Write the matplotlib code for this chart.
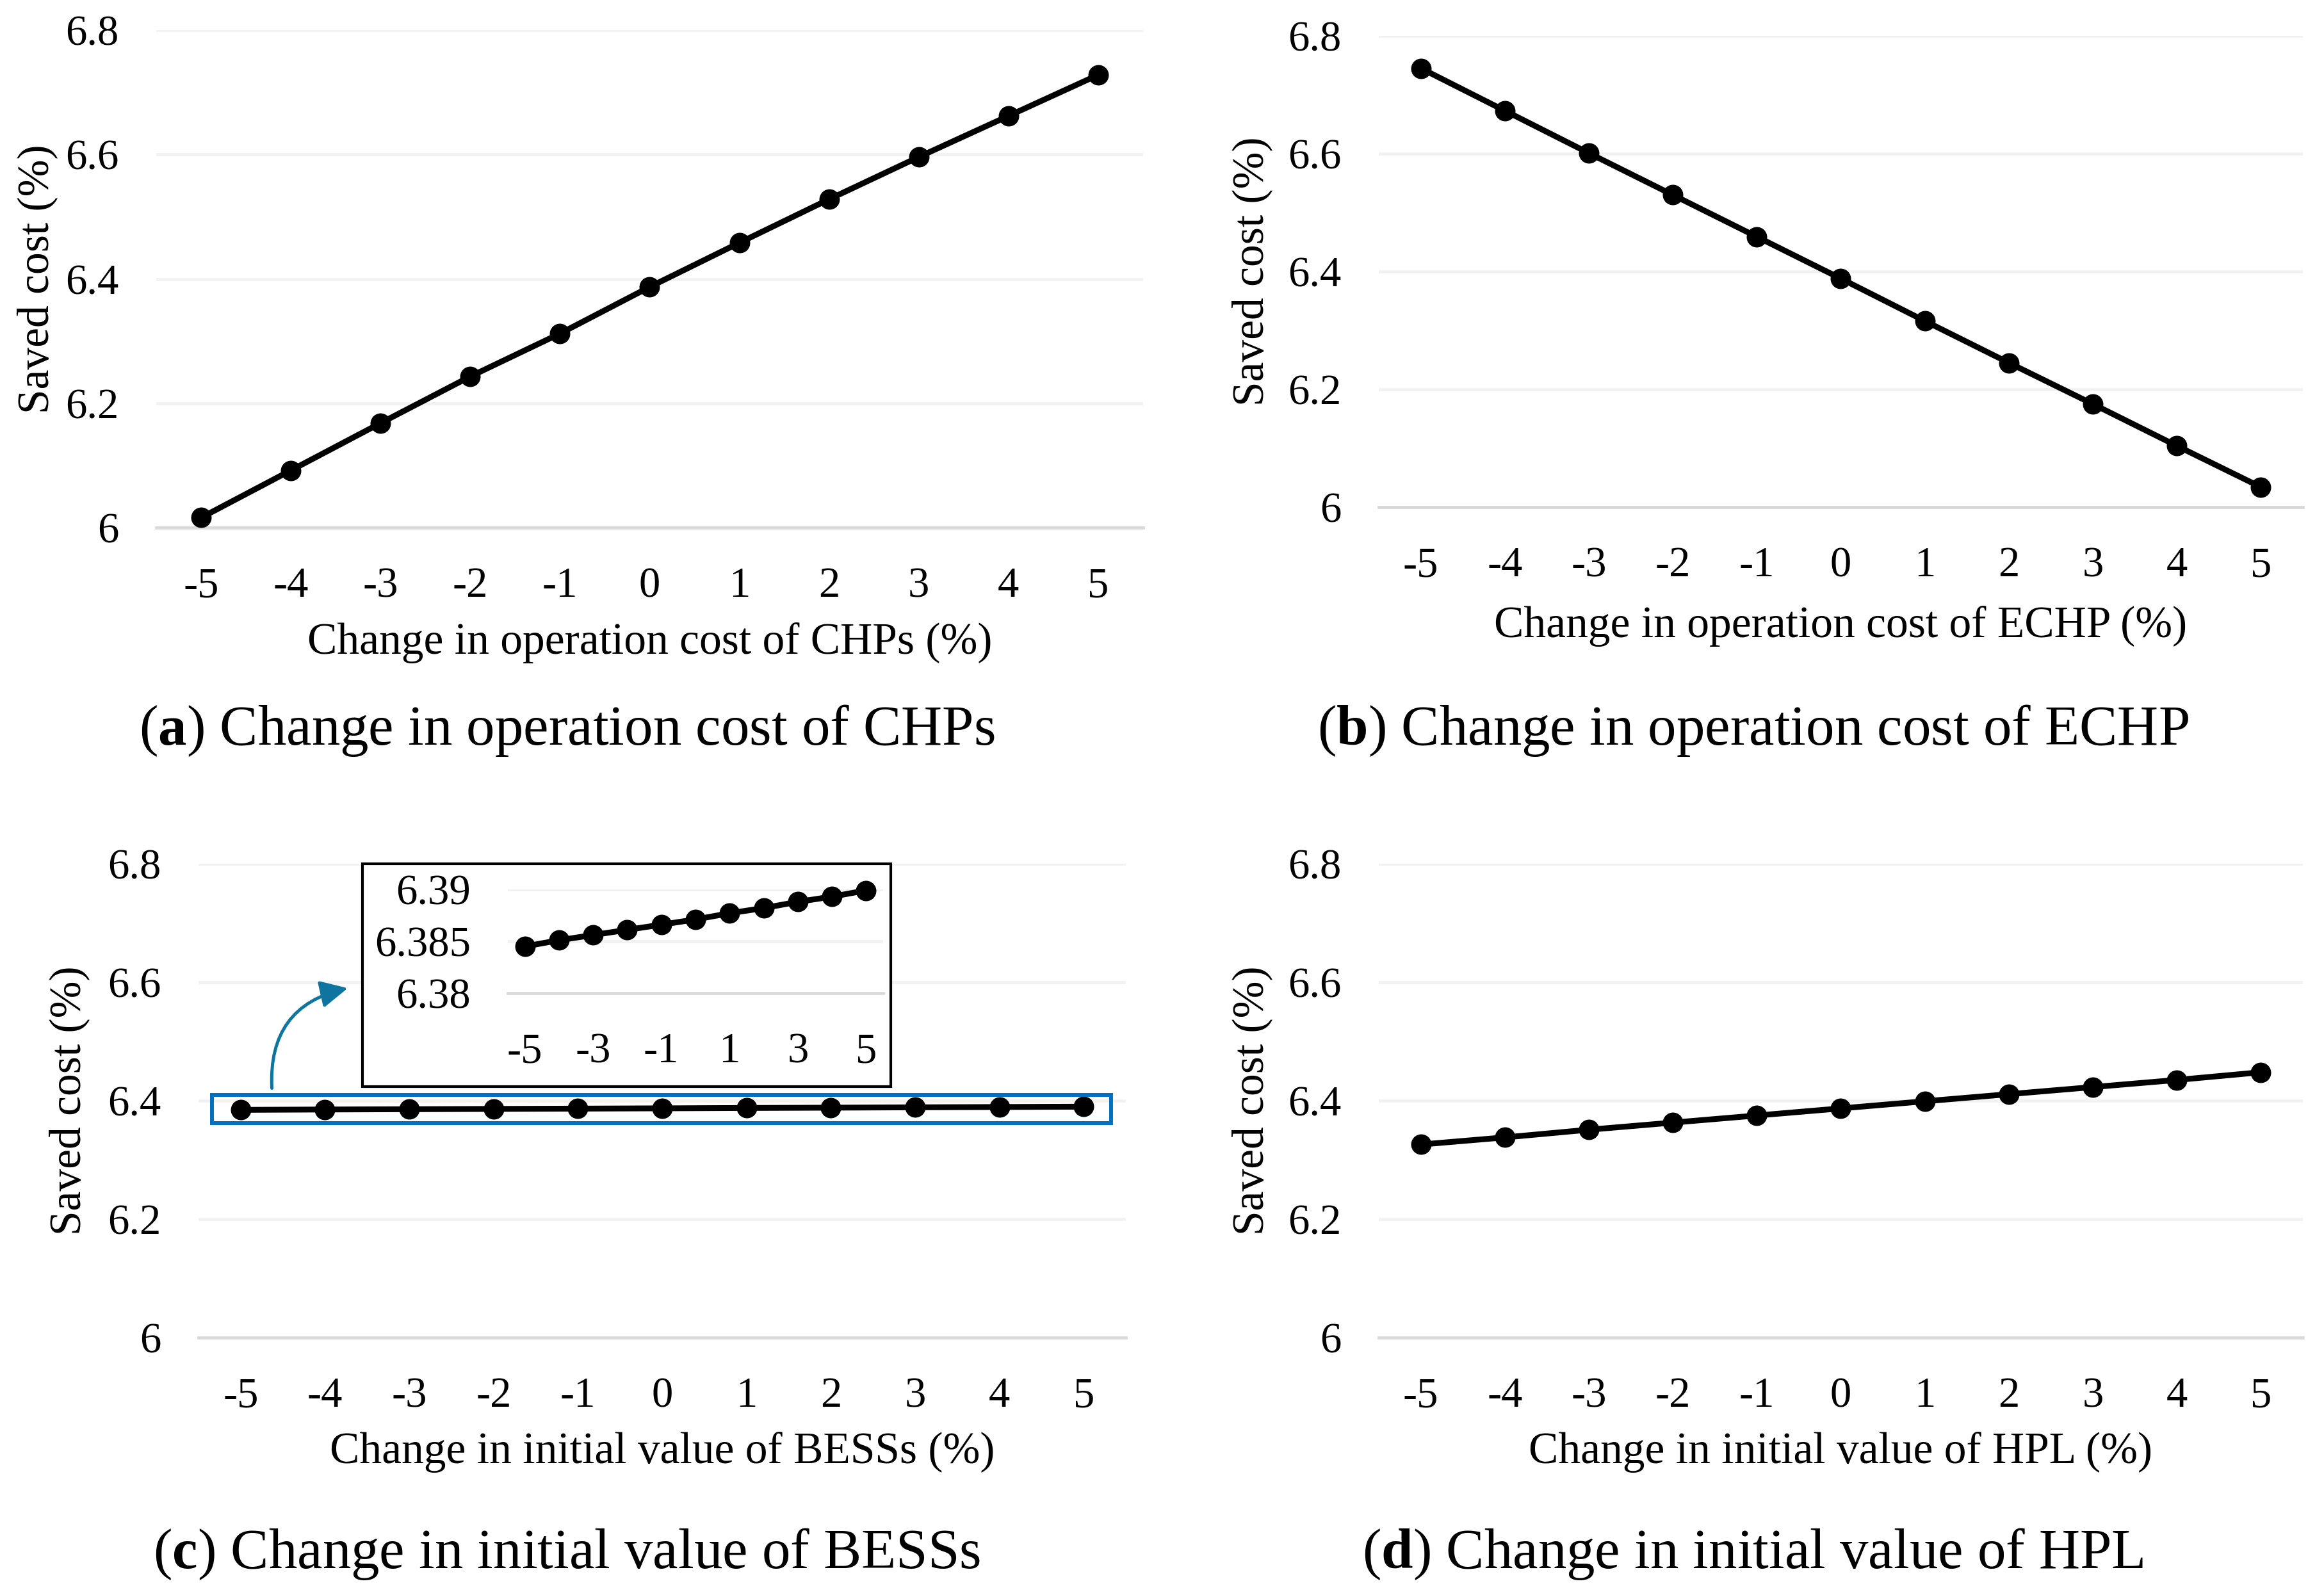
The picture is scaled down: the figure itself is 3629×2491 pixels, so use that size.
import numpy as np
import matplotlib
matplotlib.use("Agg")
from matplotlib import pyplot as plt
from matplotlib.patches import Rectangle

plt.rcParams['font.family'] = ['Liberation Serif', 'DejaVu Serif']
plt.rcParams['mathtext.fontset'] = 'custom'
plt.rcParams['mathtext.rm'] = 'Liberation Serif'
plt.rcParams['mathtext.bf'] = 'Liberation Serif:bold'

# data
change = [-5, -4, -3, -2, -1, 0, 1, 2, 3, 4, 5]
saved_chp = [6.016, 6.092, 6.168, 6.243, 6.312, 6.387, 6.458, 6.528, 6.596, 6.662, 6.728]
saved_echp = [6.745, 6.673, 6.601, 6.530, 6.459, 6.388, 6.316, 6.245, 6.175, 6.104, 6.034]
saved_bess = [6.3845, 6.3851, 6.3856, 6.3861, 6.3866, 6.3871, 6.3877, 6.3882, 6.3888, 6.3893, 6.3899]
saved_hpl = [6.326, 6.338, 6.351, 6.363, 6.375, 6.387, 6.399, 6.411, 6.423, 6.435, 6.448]

main_yticks = [6, 6.2, 6.4, 6.6, 6.8]
main_ylabels = ['6', '6.2', '6.4', '6.6', '6.8']
inset_yticks = [6.38, 6.385, 6.39]
inset_ylabels = ['6.38', '6.385', '6.39']
inset_xticks = [-5, -3, -1, 1, 3, 5]

xlabels = ['Change in operation cost of CHPs (%)',
           'Change in operation cost of ECHP (%)',
           'Change in initial value of BESSs (%)',
           'Change in initial value of HPL (%)']
captions = [r'($\mathbf{a}$) Change in operation cost of CHPs',
            r'($\mathbf{b}$) Change in operation cost of ECHP',
            r'($\mathbf{c}$) Change in initial value of BESSs',
            r'($\mathbf{d}$) Change in initial value of HPL']

W, H = 3630, 2491
fig = plt.figure(figsize=(W / 100, H / 100), dpi=100)


def px_axes(l, t, r, b, **kw):
    return fig.add_axes([l / W, 1 - b / H, (r - l) / W, (b - t) / H], **kw)


def style(ax, yticks, ylabels, xticks, ylim, fs=48):
    ax.set_xlim(-5.5, 5.5)
    ax.set_ylim(*ylim)
    ax.set_yticks(yticks)
    ax.set_yticklabels(ylabels)
    ax.set_xticks(xticks)
    ax.set_xticklabels([str(v) for v in xticks])
    for s in ['top', 'right', 'left']:
        ax.spines[s].set_visible(False)
    ax.spines['bottom'].set_color('#D9D9D9')
    ax.spines['bottom'].set_linewidth(3.4)
    ax.grid(axis='y', color='#F2F2F2', linewidth=3.4)
    ax.set_axisbelow(True)
    ax.tick_params(axis='x', length=0, pad=44, labelsize=fs)
    ax.tick_params(axis='y', length=0, pad=42, labelsize=fs)


def draw_line(ax, y):
    ax.plot(change, y, color='black', linewidth=6.5, marker='o',
            markersize=22, clip_on=False, zorder=3)


# panel boxes (left, top, right, bottom) in pixels
boxes = [(244, 47, 1785, 824), (2153, 56, 3596, 792),
         (310, 1349, 1758, 2089), (2153, 1349, 3596, 2089)]
series = [saved_chp, saved_echp, saved_bess, saved_hpl]
xlab_y = [1004, 978, 2268, 2268]
ylab_x = [58, 1955, 108, 1955]
cap_y = [1141, 1141, 2427, 2427]
cap_x = [885, 2737, 885, 2737]

axes = []
for i in range(4):
    l, t, r, b = boxes[i]
    ax = px_axes(l, t, r, b)
    style(ax, main_yticks, main_ylabels, change, (6, 6.8))
    draw_line(ax, series[i])
    axes.append(ax)
    fig.text((l + r) / 2 / W, 1 - xlab_y[i] / H, xlabels[i], fontsize=50,
             ha='center', va='center')
    fig.text(ylab_x[i] / W, 1 - (t + b) / 2 / H, 'Saved cost (%)', fontsize=50,
             rotation=90, ha='center', va='center')
    fig.text(cap_x[i] / W, 1 - cap_y[i] / H, captions[i], fontsize=64,
             ha='center', va='center')

# highlight box and arrow on panel (c)
axc = axes[2]
axc.add_patch(Rectangle((-5.342, 6.3622), 10.669, 0.0475, fill=False,
                        edgecolor='#0070C0', linewidth=4.3, zorder=4, clip_on=False))
axc.annotate('', xy=(-3.73, 6.590), xytext=(-4.63, 6.421),
             arrowprops=dict(arrowstyle='-|>,head_length=0.8,head_width=0.4',
                             mutation_scale=32, color='#0E74A0', linewidth=3.6,
                             connectionstyle='arc3,rad=-0.42',
                             shrinkA=0, shrinkB=0))

# inset frame
frame = Rectangle((566 / W, 1 - 1697 / H), (1391 - 566) / W, (1697 - 1349) / H,
                  transform=fig.transFigure, facecolor='white', edgecolor='black',
                  linewidth=3, zorder=5)
fig.patches.append(frame)

axi = px_axes(793, 1389, 1379, 1551, zorder=6)
axi.patch.set_alpha(0)
style(axi, inset_yticks, inset_ylabels, inset_xticks, (6.38, 6.39))
draw_line(axi, saved_bess)

fig.savefig('out.png', dpi=100, facecolor='white')
